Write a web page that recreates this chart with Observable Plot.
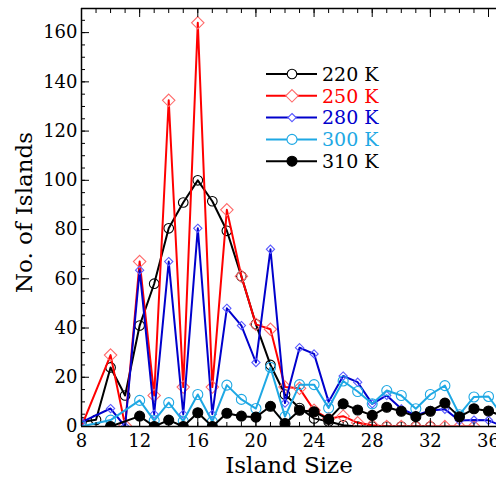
<!DOCTYPE html>
<html>
<head>
<meta charset="utf-8">
<script src="https://cdn.jsdelivr.net/npm/d3@7"></script>
<script src="https://cdn.jsdelivr.net/npm/@observablehq/plot@0.6"></script>
<style>
  html, body { margin: 0; padding: 0; background: #fff; }
  #chart { position: relative; width: 496px; height: 479px; overflow: hidden; }
  #legend { position: absolute; left: 262px; top: 62px; }
</style>
</head>
<body>
<div id="chart"></div>
<script>
// Island size distribution at five temperatures
const sizes = d3.range(8, 38); // 8 … 37

const k220 = [1.8, 2.7, 24, 12.6, 41, 58, 80.5, 91, 100, 91.5, 79.5, 61, 41.5, 25, 13, 7.5, 3.3, 2, 0.5, 0, 0, 0, 0, 0, 0, null, null, null, null, null];
const k250 = [0, null, 29, 0.4, 67, 12.6, 132.5, 16, 164, 16, 88, 61, 41.5, 39.5, 16, 15.5, 6.6, 3.2, 4.2, 1.5, 0.5, 0, 0, 0, 0, 0, 0, 0, null, null];
const k280 = [1.8, null, 7.3, 0, 63.5, 5, 67, 5, 80.5, 5, 48, 41, 26, 72, 9.5, 32, 29.5, 10, 20.5, 18, 9.2, 12.6, 7.2, 4.5, 6.5, 7, 2.4, 2.6, 2.5, 0];
const k300 = [0, null, 2.6, null, 10.6, 2.4, 9.7, 2.2, 13, 2, 16.8, 11, 7.3, 24, 4, 17, 17, 7.5, 18.5, 14.2, 9.2, 14.6, 12.6, 7.2, 13, 16.6, 4.8, 12, 12.2, 4];
const k310 = [null, null, 0, null, 4.2, 0, 2.6, 0, 5.6, 0, 5.4, 4.2, 3.8, 8.2, 1.2, 6.6, 6, 2.9, 9.2, 6.7, 4.5, 7.8, 6.2, 4, 6.2, 9.5, 3.9, 7.2, 6.3, 4.2];

const seriesLabels = ["220 K", "250 K", "280 K", "300 K", "310 K"];

const yMajor = d3.range(0, 161, 20);
const yMinor = d3.range(0, 170, 5);
const xMajor = d3.range(8, 37, 4);
const xMinor = d3.range(8, 37, 1);

const series = [
  {label: seriesLabels[0], values: k220, line: "#000000", marker: "#000000", symbol: "circle", r: 4.8, fill: "none", text: "#000000"},
  {label: seriesLabels[1], values: k250, line: "#ff0000", marker: "#ff6a6a", symbol: "diamond2", r: 5.6, fill: "none", text: "#ff0000"},
  {label: seriesLabels[2], values: k280, line: "#0000cc", marker: "#5a5aff", symbol: "diamond2", r: 3.7, fill: "none", text: "#0000cc"},
  {label: seriesLabels[3], values: k300, line: "#1ea8e4", marker: "#1ea8e4", symbol: "circle", r: 5, fill: "none", text: "#1ea8e4"},
  {label: seriesLabels[4], values: k310, line: "#000000", marker: "#000000", symbol: "circle", r: 5, fill: "#000000", text: "#000000"}
];

const rows = s => sizes.map((size, i) => ({size, n: s.values[i]})).filter(d => d.n != null);

const dataMarks = series.flatMap(s => [
  Plot.line(rows(s), {x: "size", y: "n", stroke: s.line, strokeWidth: 2, clip: true}),
  Plot.dot(rows(s), {x: "size", y: "n", symbol: s.symbol, r: s.r, stroke: s.marker, fill: s.fill, strokeWidth: 1.1, clip: true})
]);

const chart = Plot.plot({
  width: 496,
  height: 479,
  marginLeft: 81,
  marginRight: 0,
  marginTop: 8,
  marginBottom: 53,
  x: {domain: [8, 36.55]},
  y: {domain: [0, 169.8]},
  style: {fontFamily: "'DejaVu Serif', serif", fontSize: "18px", color: "#000", background: "#fff"},
  marks: [
    ...dataMarks,
    Plot.ruleX([8], {stroke: "#000", strokeWidth: 1.5}),
    Plot.ruleY([0], {stroke: "#000", strokeWidth: 1.5}),
    Plot.ruleY([169.8], {stroke: "#000", strokeWidth: 1.5}),
    Plot.axisY({ticks: yMajor, tickSize: -8, tickPadding: 12, label: null, fontSize: 18, stroke: "#000"}),
    Plot.axisY({ticks: yMinor, tickSize: -4, text: null, label: null}),
    Plot.axisX({anchor: "bottom", ticks: xMajor, tickSize: -8, tickPadding: 16, label: null, fontSize: 18}),
    Plot.axisX({anchor: "bottom", ticks: xMinor, tickSize: -4, text: null, label: null}),
    Plot.axisX({anchor: "top", ticks: xMajor, tickSize: -8, text: null, label: null}),
    Plot.axisX({anchor: "top", ticks: xMinor, tickSize: -4, text: null, label: null}),
    Plot.text(["No. of Islands"], {text: d => d, frameAnchor: "left", textAnchor: "middle", rotate: -90, dx: -57, dy: -5, fontSize: 23}),
    Plot.text(["Island Size"], {text: d => d, frameAnchor: "bottom", dy: 46, fontSize: 23})
  ]
});

const host = document.getElementById("chart");
host.appendChild(chart);

// Legend: short line with marker, then the temperature in its series colour
const rowH = 21.8;
const legend = d3.select(host).append("svg")
  .attr("id", "legend")
  .attr("width", 130)
  .attr("height", rowH * series.length + 4);

const item = legend.selectAll("g")
  .data(series)
  .join("g")
  .attr("transform", (d, i) => `translate(0, ${12 + i * rowH})`);

item.append("line")
  .attr("x1", 4).attr("x2", 55)
  .attr("stroke", d => d.line)
  .attr("stroke-width", 2);

item.append("path")
  .attr("transform", "translate(30,0)")
  .attr("d", d => d3.symbol(d.symbol === "circle" ? d3.symbolCircle : d3.symbolDiamond2, Math.PI * d.r * d.r)())
  .attr("fill", d => d.fill === "none" ? "#fff" : d.fill)
  .attr("stroke", d => d.marker)
  .attr("stroke-width", 1.1);

item.append("text")
  .attr("x", 60)
  .attr("dy", "0.36em")
  .attr("fill", d => d.text)
  .style("font-family", "'DejaVu Serif', serif")
  .style("font-size", "19px")
  .text(d => d.label);
</script>
</body>
</html>
